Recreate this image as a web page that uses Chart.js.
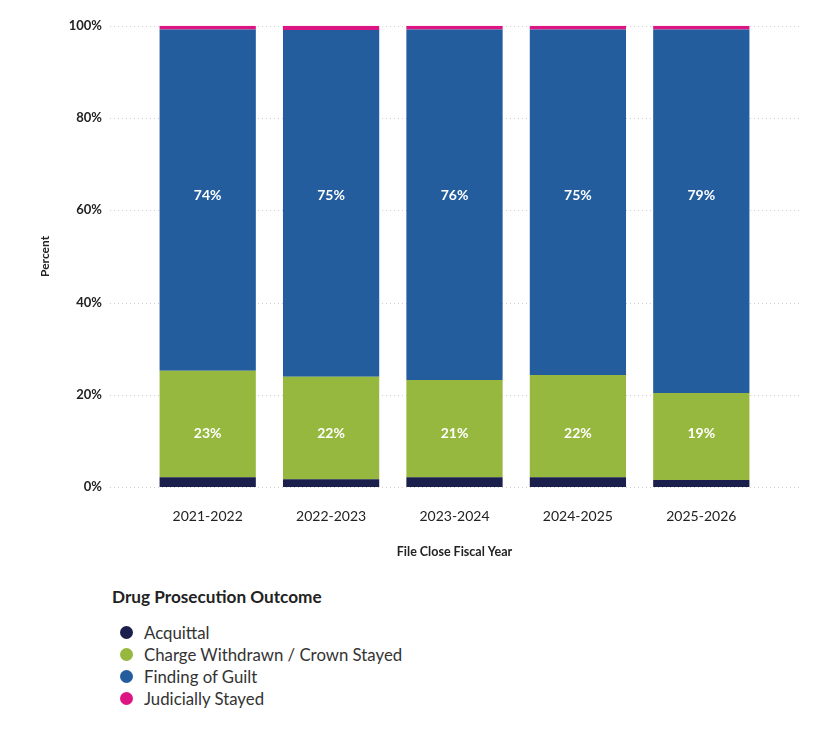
<!DOCTYPE html>
<html>
<head>
<meta charset="utf-8">
<script src="https://cdn.jsdelivr.net/npm/chart.js"></script>
<style>
    body { margin: 0; background: #fff; font-family: Lato, sans-serif; overflow: hidden; }
    #wrap { position: relative; width: 838px; height: 751px; overflow: hidden; }
    #chart-box { position: absolute; left: 0; top: -26px; width: 838px; height: 601px; }
    #legend { position: absolute; left: 112px; top: 586px; color: #222; }
    #legend .title { font-size: 17.2px; font-weight: 700; margin-bottom: 14px; }
    #legend .item { display: flex; align-items: center; height: 22px; font-size: 16.8px; color: #333; }
    #legend .dot { width: 13px; height: 13px; border-radius: 50%; margin-left: 8px; margin-right: 11px; }
</style>
</head>
<body>
<div id="wrap">
    <div id="chart-box"><canvas id="outcome-chart"></canvas></div>
    <div id="legend"></div>
</div>
<script>
const years = ['2021-2022', '2022-2023', '2023-2024', '2024-2025', '2025-2026'];
const acquittal = [2.1, 1.7, 2.1, 2.1, 1.5];
const chargeWithdrawn = [23.1, 22.2, 21.1, 22.2, 18.9];
const findingOfGuilt = [74.0, 75.2, 76.0, 74.9, 78.8];
const judiciallyStayed = [0.8, 0.9, 0.8, 0.8, 0.8];
const percentTicks = [0, 20, 40, 60, 80, 100];

const seriesNames = ['Acquittal', 'Charge Withdrawn / Crown Stayed', 'Finding of Guilt', 'Judicially Stayed'];
const seriesColors = ['#1b1f4b', '#97b83e', '#235d9e', '#dd1583'];

// dotted horizontal grid, reaching a bit past the plot on both sides
const dottedGrid = {
    id: 'dottedGrid',
    beforeDatasetsDraw(chart) {
        const y = chart.scales.y;
        const ctx = chart.ctx;
        ctx.save();
        ctx.strokeStyle = '#cfcfcf';
        ctx.lineWidth = 1;
        ctx.setLineDash([1, 3]);
        percentTicks.forEach(v => {
            const py = Math.round(y.getPixelForValue(v)) + 0.5;
            ctx.beginPath();
            ctx.moveTo(110, py);
            ctx.lineTo(800, py);
            ctx.stroke();
        });
        ctx.restore();
    }
};

// white percent labels inside the big segments
const segmentLabels = {
    id: 'segmentLabels',
    afterDatasetsDraw(chart, args, opts) {
        const ctx = chart.ctx;
        const y = chart.scales.y;
        ctx.save();
        ctx.fillStyle = '#fff';
        ctx.font = 'bold 14px Lato, sans-serif';
        ctx.textAlign = 'center';
        ctx.textBaseline = 'middle';
        chart.data.datasets.forEach((ds, i) => {
            const at = opts.labelAt[i];
            if (at == null) return;
            chart.getDatasetMeta(i).data.forEach((bar, j) => {
                ctx.fillText(Math.round(ds.data[j]) + '%', bar.x, y.getPixelForValue(at));
            });
        });
        ctx.restore();
    }
};

const seriesData = [acquittal, chargeWithdrawn, findingOfGuilt, judiciallyStayed];

const chart = new Chart(document.getElementById('outcome-chart'), {
    type: 'bar',
    data: {
        labels: years,
        datasets: seriesNames.map((name, i) => ({
            label: name,
            data: seriesData[i],
            backgroundColor: seriesColors[i],
            borderWidth: 0,
            categoryPercentage: 1,
            barPercentage: 0.78
        }))
    },
    options: {
        responsive: true,
        maintainAspectRatio: false,
        animation: false,
        layout: { padding: { top: 0, right: 75, bottom: 16, left: 0 } },
        scales: {
            x: {
                stacked: true,
                grid: { display: false, drawTicks: false },
                border: { display: false },
                ticks: { color: '#222', font: { family: 'Lato', size: 14 }, padding: 21 },
                title: {
                    display: true,
                    text: 'File Close Fiscal Year',
                    color: '#222',
                    font: { family: 'Lato', size: 12.5, weight: 'bold' },
                    padding: { top: 0, bottom: 0 }
                },
                afterFit: s => { s.height = 72; }
            },
            y: {
                stacked: true,
                min: 0,
                max: 100,
                grid: { display: false, drawTicks: false },
                border: { display: false },
                ticks: {
                    stepSize: 20,
                    padding: 44,
                    color: '#222',
                    font: { family: 'Lato', size: 13, weight: 'bold' },
                    callback: v => v + '%'
                },
                title: {
                    display: true,
                    text: 'Percent',
                    color: '#222',
                    font: { family: 'Lato', size: 12, weight: 'bold' },
                    padding: { top: 38, bottom: 0 }
                },
                afterFit: s => { s.width = 146; }
            }
        },
        plugins: {
            legend: { display: false },
            tooltip: { enabled: false },
            segmentLabels: { labelAt: [null, 11.7, 63.3, null] }
        }
    },
    plugins: [dottedGrid, segmentLabels]
});

// legend as a plain list, built from the datasets
const legend = document.getElementById('legend');
legend.innerHTML = '<div class="title">Drug Prosecution Outcome</div>';
chart.data.datasets.forEach(ds => {
    const item = document.createElement('div');
    item.className = 'item';
    item.innerHTML = '<span class="dot" style="background:' + ds.backgroundColor + '"></span>' + ds.label;
    legend.appendChild(item);
});
</script>
</body>
</html>
